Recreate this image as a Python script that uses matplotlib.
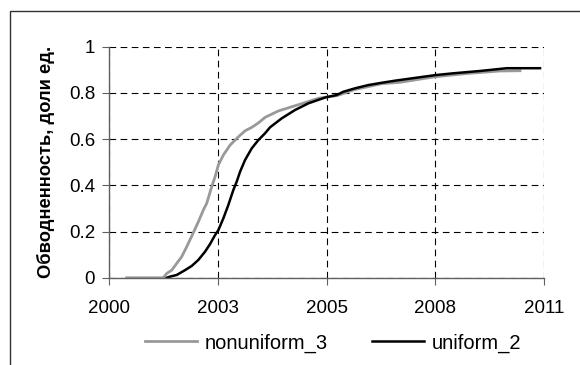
import numpy as np
import matplotlib.pyplot as plt
from matplotlib.patches import Rectangle

plt.rcParams['font.family'] = ['Liberation Sans', 'DejaVu Sans']

# ось X: сутки от начала оси, подписи годов на основных делениях
x_ticks = [0, 1000, 2000, 3000, 4000]
x_labels = ["2000", "2003", "2005", "2008", "2011"]
y_ticks = [0, 0.2, 0.4, 0.6, 0.8, 1]
y_labels = ["0", "0.2", "0.4", "0.6", "0.8", "1"]

# nonuniform_3
t_nonuni = [163, 499, 531, 577, 622, 668, 714, 775, 821, 867, 898, 944, 975,
            1005, 1051, 1113, 1189, 1251, 1312, 1373, 1434, 1557, 1680, 1802,
            1925, 2094, 2262, 2508, 2676, 2998, 3289, 3595, 3779]
w_nonuni = [0, 0, 0.019, 0.033, 0.062, 0.091, 0.134, 0.195, 0.242, 0.293,
            0.322, 0.394, 0.437, 0.488, 0.531, 0.574, 0.610, 0.636, 0.651,
            0.670, 0.694, 0.722, 0.740, 0.758, 0.777, 0.788, 0.815, 0.840,
            0.846, 0.870, 0.884, 0.895, 0.896]

# uniform_2
t_uni = [531, 561, 622, 699, 760, 821, 883, 929, 975, 1005, 1051, 1097, 1143,
         1174, 1205, 1251, 1312, 1373, 1434, 1480, 1588, 1710, 1833, 1993,
         2094, 2154, 2262, 2384, 2508, 2630, 2783, 2998, 3166, 3411, 3657, 3963]
w_uni = [0, 0.005, 0.012, 0.033, 0.051, 0.077, 0.113, 0.146, 0.185, 0.206,
         0.257, 0.315, 0.380, 0.416, 0.459, 0.510, 0.560, 0.596, 0.625, 0.651,
         0.690, 0.726, 0.755, 0.781, 0.791, 0.805, 0.820, 0.834, 0.844, 0.853,
         0.863, 0.877, 0.885, 0.895, 0.907, 0.907]

fig = plt.figure(figsize=(5.8, 3.65), dpi=100)
ax = fig.add_axes([0.188, 0.239, 0.750, 0.633])

ax.plot(t_nonuni, w_nonuni, color="#999999", lw=2.0, label="nonuniform_3")
ax.plot(t_uni, w_uni, color="black", lw=1.8, label="uniform_2")

ax.set_xlim(0, 4000)
ax.set_ylim(0, 1)
ax.set_xticks(x_ticks)
ax.set_xticklabels(x_labels)
ax.set_yticks(y_ticks)
ax.set_yticklabels(y_labels)

ax.grid(True, color="black", ls=(0, (6, 4)), lw=0.8)
for s in ["top", "right"]:
    ax.spines[s].set_visible(False)
for s in ["left", "bottom"]:
    ax.spines[s].set_color("#606060")
    ax.spines[s].set_linewidth(1.0)
ax.tick_params(axis="both", colors="#606060", labelcolor="black",
               labelsize=13.5, length=5, direction="out")
ax.tick_params(axis="x", pad=11)
ax.tick_params(axis="y", pad=5)

ax.set_ylabel("Обводненность, доли ед.", fontsize=13.2, fontweight="bold")
ax.yaxis.set_label_coords(-0.124, 0.5)

fig.legend(loc="center", bbox_to_anchor=(0.574, 0.060), ncol=2,
           frameon=False, fontsize=14.5, handlelength=2.6,
           handletextpad=0.35, columnspacing=2.2)

# внешняя рамка области диаграммы
fig.add_artist(Rectangle((10 / 580, -0.5), 2, 0.970 + 0.5,
                         transform=fig.transFigure, fill=False,
                         edgecolor="#303030", lw=1.0))

fig.savefig("out.png", dpi=100)
